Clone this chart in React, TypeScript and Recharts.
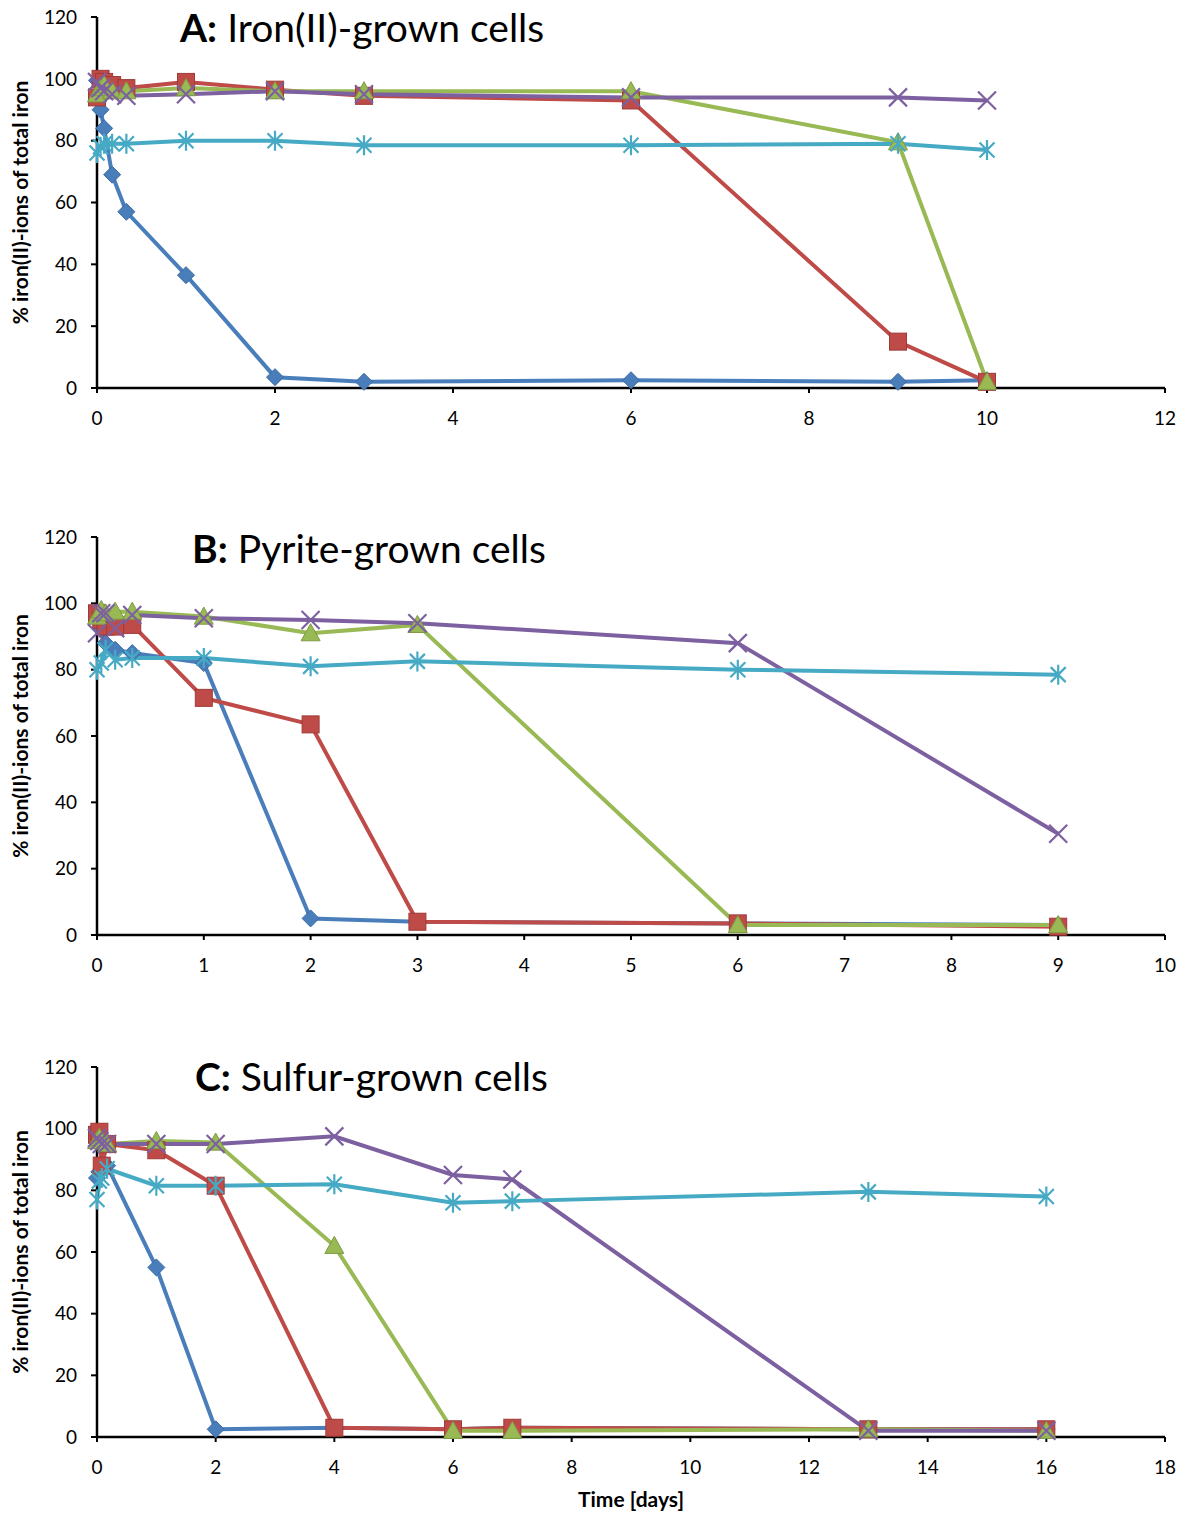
import { Line, LineChart, XAxis, YAxis } from 'recharts';

// Panel A: Iron(II)-grown cells
const timesA = [0, 0.04, 0.08, 0.17, 0.33, 1, 2, 3, 6, 9, 10];
const blueA = [99.5, 90, 84, 69, 57, 36.5, 3.5, 2, 2.5, 2, 2.5];
const redA = [94, 100, 99, 98, 97, 99, 96.5, 94.5, 93, 15, 2];
const greenA = [95, 97, 98, 96, 96, 97, 96, 96, 96, 79.5, 2];
const purpleA = [99, 97, 96, 95, 94.5, 95, 96, 95, 94, 94, 93];
const cyanA = [76, 78, 79, 79, 79, 80, 80, 78.5, 78.5, 79, 77];

// Panel B: Pyrite-grown cells
const timesB = [0, 0.04, 0.08, 0.17, 0.33, 1, 2, 3, 6, 9];
const blueB = [96, 92, 88, 86, 85, 82, 5, 4, 3.5, 3];
const redB = [97, 95, 93, 93, 93.5, 71.5, 63.5, 4, 3.5, 2.5];
const greenB = [96, 98, 97, 97.5, 97.5, 96, 91, 93.5, 3, 3];
const purpleB = [91, 97, 97, 92.5, 96.5, 95.5, 95, 94, 88, 30.5];
const cyanB = [80, 82, 86, 83, 83.5, 83.5, 81, 82.5, 80, 78.5];

// Panel C: Sulfur-grown cells
const timesC = [0, 0.04, 0.08, 0.17, 1, 2, 4, 6, 7, 13, 16];
const blueC = [84, 86, 87, 88, 55, 2.5, 3, 2.5, 3, 2.5, 2.5];
const redC = [98, 99, 88, 95, 93, 81.5, 3, 2.5, 3, 2.5, 2.5];
const greenC = [96, 97, 96, 95, 96, 95.5, 62, 2, 2, 2.5, 2];
const purpleC = [97, 96, 95, 95, 95, 95, 97.5, 85, 83.5, 2, 2];
const cyanC = [77, 83, 84, 87, 81.5, 81.5, 82, 76, 76.5, 79.5, 78];

const yTicks = [0, 20, 40, 60, 80, 100, 120];
const xTicksA = [0, 2, 4, 6, 8, 10, 12];
const xTicksB = [0, 1, 2, 3, 4, 5, 6, 7, 8, 9, 10];
const xTicksC = [0, 2, 4, 6, 8, 10, 12, 14, 16, 18];

const FONT = 'Lato, "Open Sans", sans-serif';

const series = [
    { key: 'blue', color: '#4A7EBB', shape: 'diamond' },
    { key: 'red', color: '#BE4B48', shape: 'square' },
    { key: 'green', color: '#98B954', shape: 'triangle' },
    { key: 'purple', color: '#7D60A0', shape: 'cross' },
    { key: 'cyan', color: '#46AAC5', shape: 'star' },
];

function buildRows(times: number[], cols: number[][]) {
    return times.map((t, i) => ({
        t,
        blue: cols[0][i],
        red: cols[1][i],
        green: cols[2][i],
        purple: cols[3][i],
        cyan: cols[4][i],
    }));
}

function Marker(props: any) {
    const { cx, cy, shape, color } = props;
    if (cx == null || cy == null) return null;
    if (shape === 'diamond') {
        const r = 8.5;
        return (
            <path
                d={`M${cx},${cy - r}L${cx + r},${cy}L${cx},${cy + r}L${cx - r},${cy}Z`}
                fill={color}
                stroke="#3A6AA5"
                strokeWidth={1}
            />
        );
    }
    if (shape === 'square') {
        const r = 8.5;
        return <rect x={cx - r} y={cy - r} width={2 * r} height={2 * r} fill={color} stroke="#A03A37" strokeWidth={1} />;
    }
    if (shape === 'triangle') {
        const r = 9.5;
        return (
            <path
                d={`M${cx},${cy - r}L${cx + r},${cy + r * 0.8}L${cx - r},${cy + r * 0.8}Z`}
                fill={color}
                stroke="#7E9B42"
                strokeWidth={1}
            />
        );
    }
    if (shape === 'cross') {
        const r = 9;
        return (
            <path
                d={`M${cx - r},${cy - r}L${cx + r},${cy + r}M${cx - r},${cy + r}L${cx + r},${cy - r}`}
                stroke={color}
                strokeWidth={2.2}
                fill="none"
            />
        );
    }
    const r = 10;
    const d = r * 0.75;
    return (
        <path
            d={`M${cx - d},${cy - d}L${cx + d},${cy + d}M${cx - d},${cy + d}L${cx + d},${cy - d}M${cx},${cy - r}L${cx},${cy + r}`}
            stroke={color}
            strokeWidth={2.2}
            fill="none"
        />
    );
}

function Panel({
    top,
    height,
    marginTop,
    marginBottom,
    axisHeight,
    rows,
    xMax,
    xTicks,
    letter,
    title,
    titleX,
    titleY,
    showXLabel,
}: {
    top: number;
    height: number;
    marginTop: number;
    marginBottom: number;
    axisHeight: number;
    rows: any[];
    xMax: number;
    xTicks: number[];
    letter: string;
    title: string;
    titleX: number;
    titleY: number;
    showXLabel?: boolean;
}) {
    const tickStyle = { fill: '#000', fontSize: 19, fontFamily: FONT };
    return (
        <div style={{ position: 'absolute', left: 0, top, width: 1183, height }}>
            <LineChart
                width={1183}
                height={height}
                data={rows}
                margin={{ top: marginTop, right: 18, bottom: marginBottom, left: 0 }}
            >
                <XAxis
                    type="number"
                    dataKey="t"
                    domain={[0, xMax]}
                    ticks={xTicks}
                    interval={0}
                    height={axisHeight}
                    tick={tickStyle}
                    tickMargin={19}
                    tickSize={5}
                    axisLine={{ stroke: '#000', strokeWidth: 2.5 }}
                    tickLine={{ stroke: '#000', strokeWidth: 2 }}
                    label={
                        showXLabel
                            ? {
                                  value: 'Time [days]',
                                  position: 'insideBottom',
                                  offset: 0,
                                  style: { fill: '#000', fontSize: 21, fontWeight: 700, fontFamily: FONT },
                              }
                            : undefined
                    }
                />
                <YAxis
                    type="number"
                    domain={[0, 120]}
                    ticks={yTicks}
                    interval={0}
                    width={97}
                    tick={tickStyle}
                    tickMargin={14}
                    tickSize={6}
                    axisLine={{ stroke: '#000', strokeWidth: 2.5 }}
                    tickLine={{ stroke: '#000', strokeWidth: 2 }}
                    label={{
                        value: '% iron(II)-ions of total iron',
                        angle: -90,
                        position: 'insideLeft',
                        offset: 21,
                        style: { textAnchor: 'middle', fill: '#000', fontSize: 21, fontWeight: 700, fontFamily: FONT },
                    }}
                />
                {series.map((s) => (
                    <Line
                        key={s.key}
                        type="linear"
                        dataKey={s.key}
                        stroke={s.color}
                        strokeWidth={4}
                        isAnimationActive={false}
                        connectNulls
                        dot={(p: any) => <Marker key={`${s.key}-${p.index}`} {...p} shape={s.shape} color={s.color} />}
                        activeDot={false}
                    />
                ))}
            </LineChart>
            <div
                style={{
                    position: 'absolute',
                    left: titleX,
                    top: titleY,
                    fontFamily: FONT,
                    fontSize: 39,
                    color: '#000',
                    whiteSpace: 'nowrap',
                    lineHeight: 1,
                }}
            >
                <b>{letter}</b> {title}
            </div>
        </div>
    );
}

export default function App() {
    return (
        <div style={{ position: 'absolute', left: 0, top: 0, width: 1183, height: 1514, background: '#fff' }}>
            <Panel
                top={0}
                height={445}
                marginTop={17}
                marginBottom={17}
                axisHeight={40}
                rows={buildRows(timesA, [blueA, redA, greenA, purpleA, cyanA])}
                xMax={12}
                xTicks={xTicksA}
                letter="A:"
                title="Iron(II)-grown cells"
                titleX={180}
                titleY={8}
            />
            <Panel
                top={500}
                height={480}
                marginTop={37}
                marginBottom={5}
                axisHeight={40}
                rows={buildRows(timesB, [blueB, redB, greenB, purpleB, cyanB])}
                xMax={10}
                xTicks={xTicksB}
                letter="B:"
                title="Pyrite-grown cells"
                titleX={192}
                titleY={29}
            />
            <Panel
                top={1030}
                height={484}
                marginTop={37}
                marginBottom={7}
                axisHeight={70}
                rows={buildRows(timesC, [blueC, redC, greenC, purpleC, cyanC])}
                xMax={18}
                xTicks={xTicksC}
                letter="C:"
                title="Sulfur-grown cells"
                titleX={195}
                titleY={27}
                showXLabel
            />
        </div>
    );
}
